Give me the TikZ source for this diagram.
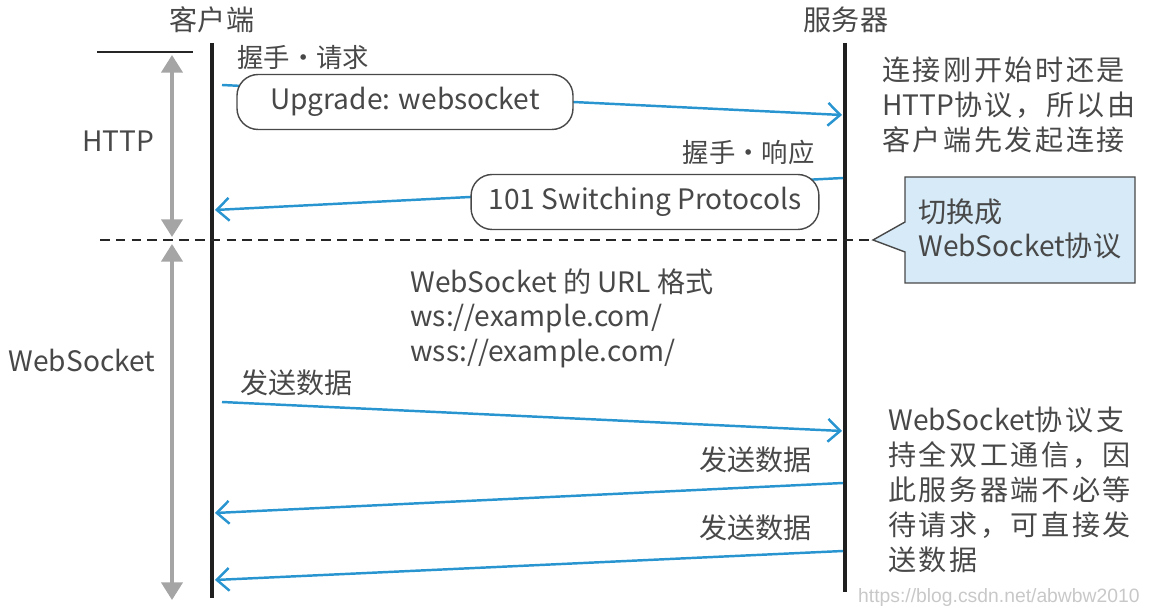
\documentclass[tikz,border=0pt]{standalone}
\usepackage{fontspec}
\setmainfont{Noto Sans CJK SC}
\newfontfamily\spcjk[LetterSpace=9]{Noto Sans CJK SC}
\newfontfamily\wmfont{Liberation Sans}
\usetikzlibrary{arrows.meta}
\definecolor{txt}{RGB}{72,72,72}
\definecolor{msg}{RGB}{40,148,208}
\definecolor{rng}{RGB}{165,165,165}
\definecolor{callfill}{RGB}{214,234,247}
\definecolor{wm}{RGB}{200,200,200}
\tikzset{
  lbl/.style={text=txt, inner sep=0pt},
  para/.style={text=txt, inner sep=0pt, align=left, anchor=north west},
  life/.style={line width=2.4pt, color=black!88},
  msgarrow/.style={line width=1.4pt, color=msg, -{Straight Barb[length=7pt,width=13pt,line width=1.4pt]}},
  rangearrow/.style={line width=2pt, color=rng, {Triangle[length=10pt,width=12pt]}-{Triangle[length=10pt,width=12pt]}},
  msgbox/.style={draw=txt, line width=0.8pt, fill=white, rounded corners=12pt, text=txt, minimum height=1.1cm, inner xsep=10pt},
  divider/.style={line width=1.7pt, color=black!85, dash pattern=on 5.5pt off 3.5pt},
}
\begin{document}
\begin{tikzpicture}[x=0.02cm, y=-0.02cm, font=\fontsize{16}{19.84}\selectfont]
\useasboundingbox (0,0) rectangle (1150,614);

% lifelines
\coordinate (cT) at (212,43);
\coordinate (cB) at (212,598);
\coordinate (sT) at (845,43);
\coordinate (sB) at (845,592);
\draw[life] (cT) -- (cB);
\draw[life] (sT) -- (sB);
\node[lbl] (client) at (212,20) {客户端};
\node[lbl] (server) at (846,20) {服务器};

% top marker line
\coordinate (m1) at (97,52);
\coordinate (m2) at (193,52);
\draw[line width=1.1pt, black!85] (m1) -- (m2);

% ranges
\coordinate (h1) at (172,55);
\coordinate (h2) at (172,237);
\coordinate (w1) at (172,244);
\coordinate (w2) at (172,600);
\draw[rangearrow] (h1) -- (h2);
\draw[rangearrow] (w1) -- (w2);
\node[lbl] (http) at (118,141) {HTTP};
\node[lbl] (ws) at (82,360) {WebSocket};

% divider and callout
\coordinate (d1) at (100,240);
\coordinate (tip) at (873,240);
\draw[divider] (d1) -- (tip);
\draw[draw=txt, line width=0.8pt, fill=callfill]
  (tip) -- (905,222) -- (905,177) -- (1135,177) -- (1135,283) -- (905,283) -- (905,252) -- cycle;
\node[para] (switch) at (918,198) {切换成\\WebSocket协议};

% handshake request
\node[lbl, anchor=west, font=\fontsize{15}{19.84}\selectfont] (reqlbl) at (237,58) {握手·请求};
\coordinate (a1s) at (222,85);
\coordinate (a1e) at (842,115);
\draw[msgarrow] (a1s) -- (a1e);
\node[msgbox, minimum width=336*0.02cm] (up) at (405,102) {Upgrade: websocket};

% handshake response
\node[lbl, anchor=east, font=\fontsize{15}{19.84}\selectfont] (reslbl) at (815,152) {握手·响应};
\coordinate (a2s) at (843,178);
\coordinate (a2e) at (215,210);
\draw[msgarrow] (a2s) -- (a2e);
\node[msgbox, minimum width=334*0.02cm] (sw) at (645,202) {101 Switching Protocols};

% notes
\node[para] (note1) at (882,57) {{\spcjk 连接刚开始时还是}\\HTTP{\spcjk 协议，所以由}\\{\spcjk 客户端先发起连接}};
\node[para] (urls) at (410,268) {WebSocket 的 URL 格式\\ws://example.com/\\wss://example.com/};
\node[para] (note2) at (888,407) {WebSocket{\spcjk 协议支}\\{\spcjk 持全双工通信，因}\\{\spcjk 此服务器端不必等}\\{\spcjk 待请求，可直接发}\\{\spcjk 送数据}};

% data frames
\node[lbl, anchor=west] (d1lbl) at (240,383) {发送数据};
\coordinate (a3s) at (222,402);
\coordinate (a3e) at (842,431);
\draw[msgarrow] (a3s) -- (a3e);

\node[lbl, anchor=east] (d2lbl) at (812,460) {发送数据};
\coordinate (a4s) at (843,483);
\coordinate (a4e) at (215,513);
\draw[msgarrow] (a4s) -- (a4e);

\node[lbl, anchor=east] (d3lbl) at (812,528) {发送数据};
\coordinate (a5s) at (843,551);
\coordinate (a5e) at (215,580);
\draw[msgarrow] (a5s) -- (a5e);

% watermark
\node[inner sep=0pt, text=wm, anchor=east, font=\wmfont\fontsize{11}{13}\selectfont] (wmk) at (1140,598) {https://blog.csdn.net/abwbw2010};
\end{tikzpicture}
\end{document}
